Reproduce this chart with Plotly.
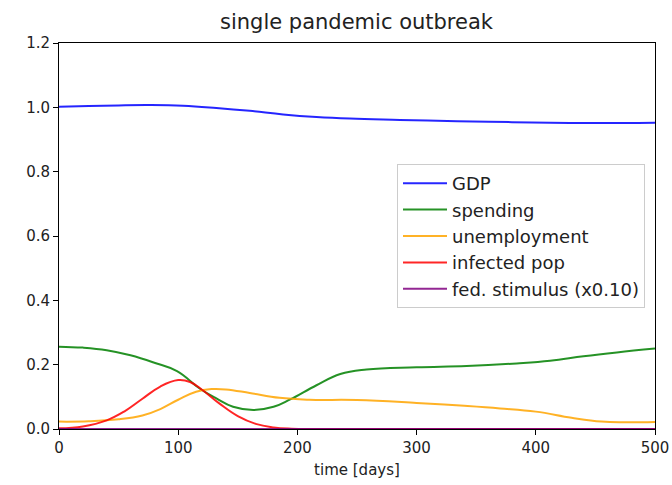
import plotly.graph_objects as go

# ---- data ----
gdp_days = [0, 25, 50, 76, 104, 132, 160, 188, 216, 244, 286, 334, 380, 412, 450, 500]
gdp = [1.002, 1.004, 1.006, 1.007, 1.005, 0.998, 0.989, 0.978, 0.970, 0.965, 0.961, 0.957, 0.954, 0.952, 0.951, 0.952]

spend_days = [0, 20, 40, 60, 80, 99, 118, 132, 146, 163, 180, 194, 216, 236, 258, 300, 342, 384, 412, 440, 468, 500]
spending = [0.256, 0.253, 0.245, 0.229, 0.206, 0.180, 0.126, 0.095, 0.069, 0.059, 0.069, 0.092, 0.136, 0.171, 0.185, 0.192, 0.196, 0.204, 0.212, 0.226, 0.238, 0.250]

unemp_days = [0, 25, 50, 70, 85, 100, 115, 128, 140, 160, 185, 210, 250, 300, 340, 370, 400, 430, 455, 475, 500]
unemployment = [0.023, 0.024, 0.030, 0.042, 0.062, 0.091, 0.116, 0.124, 0.123, 0.112, 0.097, 0.091, 0.090, 0.081, 0.072, 0.064, 0.054, 0.035, 0.023, 0.021, 0.022]

inf_days = [0, 20, 40, 55, 70, 85, 100, 110, 120, 135, 150, 165, 180, 195, 215, 260, 320, 400, 500]
infected = [0.002, 0.008, 0.027, 0.055, 0.094, 0.132, 0.152, 0.146, 0.122, 0.078, 0.040, 0.016, 0.005, 0.001, 0.0, 0.0, 0.0, 0.0, 0.0]

stim_days = [0, 500]
stimulus = [0.0, 0.0]

x_ticks = [0, 100, 200, 300, 400, 500]
y_ticks = [0.0, 0.2, 0.4, 0.6, 0.8, 1.0, 1.2]

FONT = "DejaVu Sans"

series = [
    ("GDP", gdp_days, gdp, "#0000ff"),
    ("spending", spend_days, spending, "#008000"),
    ("unemployment", unemp_days, unemployment, "#ffa500"),
    ("infected pop", inf_days, infected, "#ff0000"),
    ("fed. stimulus (x0.10)", stim_days, stimulus, "#800080"),
]

fig = go.Figure()
for i, (name, xs, ys, col) in enumerate(series):
    fig.add_trace(go.Scatter(
        x=xs, y=ys, mode="lines", name=name,
        line=dict(color=col, width=2, shape="spline", smoothing=1.2),
        opacity=0.85, legendgroup=f"g{i}",
    ))

fig.update_layout(
    width=672, height=485,
    margin=dict(l=59, r=17, t=43, b=56, autoexpand=False),
    paper_bgcolor="white", plot_bgcolor="white",
    font=dict(family=FONT, size=15, color="#222222"),
    title=dict(text="single pandemic outbreak", x=(218 + 495) / 2 / 672, xanchor="center",
               y=1 - 22 / 485, yanchor="middle",
               font=dict(family=FONT, size=21, color="#222222")),
    legend=dict(x=(397 - 59) / 596, y=(429 - 164) / 386, xanchor="left", yanchor="top",
                bgcolor="white", bordercolor="#cccccc", borderwidth=1,
                font=dict(family=FONT, size=18, color="#222222"),
                tracegroupgap=0, itemwidth=44),
    showlegend=True,
)
fig.update_xaxes(range=[0, 500], tickvals=x_ticks, ticktext=[str(v) for v in x_ticks],
                 showline=True, mirror=True, linecolor="black", linewidth=1, layer="below traces",
                 ticks="outside", ticklen=5, tickcolor="black", showgrid=False, zeroline=False,
                 automargin=False,
                 title=dict(text="time [days]", font=dict(family=FONT, size=15), standoff=8))
fig.update_yaxes(range=[0, 1.2], tickvals=y_ticks, ticktext=[f"{v:.1f}" for v in y_ticks],
                 showline=True, mirror=True, linecolor="black", linewidth=1, layer="below traces",
                 ticks="outside", ticklen=5, tickcolor="black", showgrid=False, zeroline=False,
                 automargin=False)

fig.write_html("out.html")
